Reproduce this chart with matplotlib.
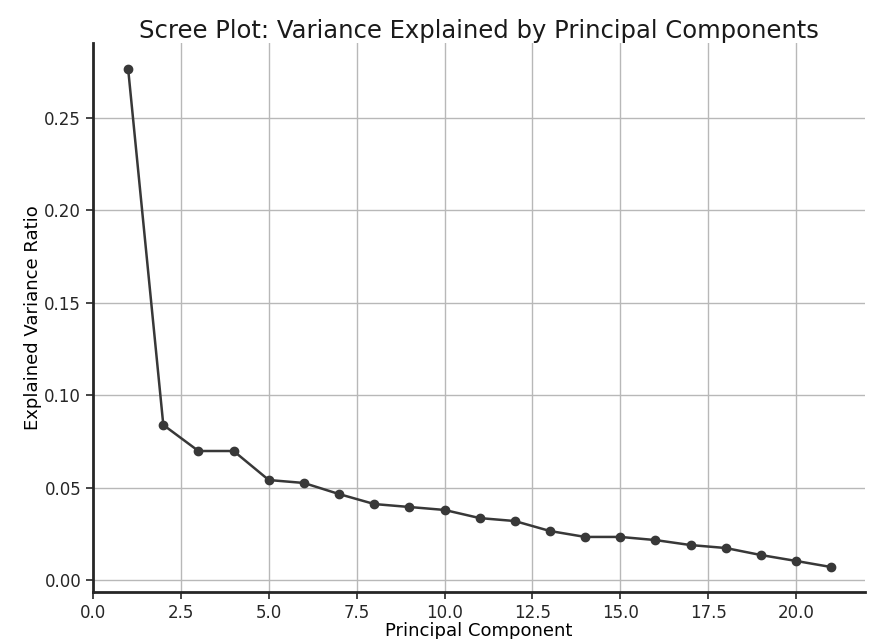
import matplotlib
matplotlib.use("Agg")
import matplotlib.pyplot as plt

components = list(range(1, 22))
explained_ratio = [
    0.2765, 0.0839, 0.0698, 0.0698, 0.0541, 0.0525, 0.0465, 0.0411, 0.0395, 0.0379,
    0.0335, 0.0319, 0.0265, 0.0233, 0.0233, 0.0216, 0.0189, 0.0173, 0.0135, 0.0103,
    0.0070,
]

plt.rcParams["font.family"] = "DejaVu Sans"

fig = plt.figure(figsize=(8.71, 6.39), dpi=100)
ax = fig.add_axes([93 / 871, 1 - 592 / 639, (865 - 93) / 871, (592 - 43) / 639])

ax.plot(components, explained_ratio, marker="o", markersize=6, linewidth=1.8, color="#383838")

ax.set_xlim(0, 21.96)
ax.set_ylim(-0.0065, 0.2906)
ax.set_xticks([0, 2.5, 5, 7.5, 10, 12.5, 15, 17.5, 20])
ax.set_yticks([0, 0.05, 0.10, 0.15, 0.20, 0.25])
ax.xaxis.set_major_formatter(matplotlib.ticker.FormatStrFormatter("%.1f"))
ax.yaxis.set_major_formatter(matplotlib.ticker.FormatStrFormatter("%.2f"))

ax.grid(True, color="#b8b8b8", linewidth=1.0)
ax.set_axisbelow(True)
for side in ("top", "right"):
    ax.spines[side].set_visible(False)
for side in ("left", "bottom"):
    ax.spines[side].set_linewidth(2.0)
    ax.spines[side].set_color("#262626")

ax.tick_params(labelsize=12, length=5, width=1.2, colors="#262626")
ax.set_title("Scree Plot: Variance Explained by Principal Components", fontsize=17.5, pad=3,
             color="#1a1a1a")
ax.set_xlabel("Principal Component", fontsize=13, labelpad=0)
ax.set_ylabel("Explained Variance Ratio", fontsize=13, labelpad=2)

fig.savefig("out.png", dpi=100)
